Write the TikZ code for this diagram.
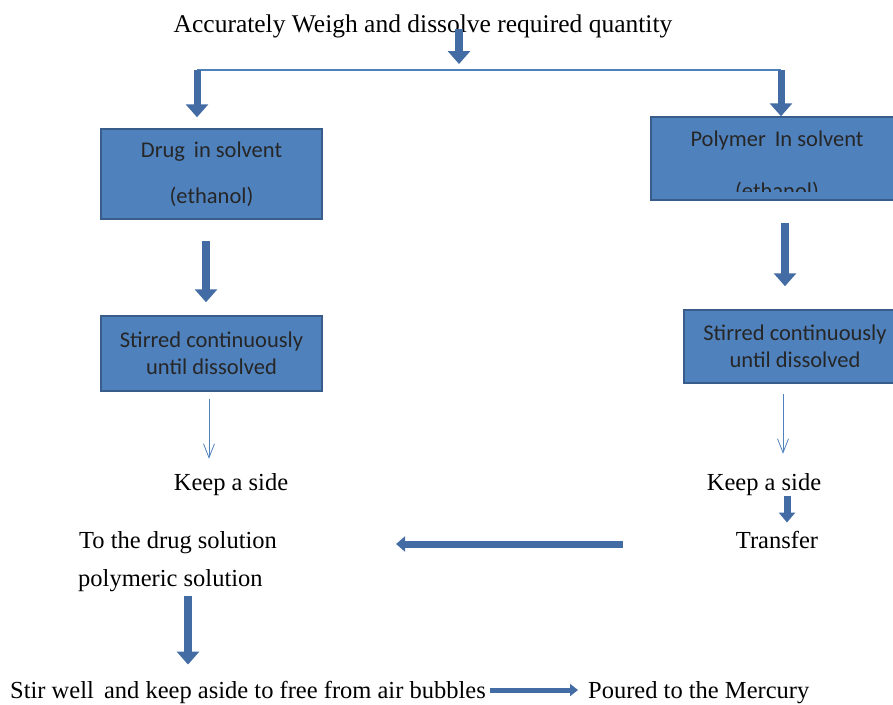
\documentclass[tikz,border=0pt]{standalone}
\usepackage{fontspec}
\setmainfont{Liberation Serif}
\newfontfamily\boxfont{Carlito}
\usetikzlibrary{arrows.meta}
\definecolor{boxblue}{RGB}{79,129,189}
\definecolor{edgeblue}{RGB}{56,93,138}
\definecolor{arrowblue}{RGB}{66,108,163}
\tikzset{
  bluebox/.style={draw=edgeblue, line width=1.5pt, fill=boxblue, inner sep=0pt},
  boxtext/.style={font=\boxfont\fontsize{22.5}{27}\selectfont, text=black!85, align=center},
  plain/.style={font=\fontsize{24.5}{28}\selectfont, inner sep=0pt},
  fatarrow/.style={arrowblue, line width=8pt, -{Triangle[width=22pt,length=13pt]}},
  smallarrow/.style={arrowblue, line width=7pt, -{Triangle[width=16pt,length=10pt]}},
  thinarrow/.style={boxblue, line width=0.8pt, -{Straight Barb[length=14pt,width=11pt]}},
}
\begin{document}
\begin{tikzpicture}[x=1pt,y=-1pt]
        \useasboundingbox (0,0) rectangle (893,704);
        % columns and rows for the connectors
        \coordinate (lsplit) at (197,70);
        \coordinate (rsplit) at (781,70);
        \coordinate (mid) at (459,64);
        \coordinate (lcol) at (206,0);
        \coordinate (rcol) at (785,0);
        \coordinate (lthin) at (209,0);
        \coordinate (rthin) at (783,0);
        \coordinate (tcol) at (787,0);
        \coordinate (hrow) at (0,544);
        \coordinate (dcol) at (188,0);
        \coordinate (brow) at (0,690);
        % title
        \node[plain, font=\fontsize{25.5}{28}\selectfont, anchor=base] (weigh) at (423,32) {Accurately Weigh and dissolve required quantity};
        % boxes
        \node[bluebox, minimum width=221pt, minimum height=90pt] (drug) at (211.5,174) {};
        \node[boxtext] at (drug.center) {Drug\, in solvent\\[19pt](ethanol)};
        \node[bluebox, minimum width=252pt, minimum height=83pt] (poly) at (777,158.5) {};
        \begin{scope}
            \clip (poly.north west) rectangle (poly.east |- 0,191);
            \node[boxtext, anchor=base] at (777,198) {Polymer\, In solvent\\[25pt](ethanol)};
        \end{scope}
        \node[bluebox, boxtext, minimum width=221pt, minimum height=75pt] (drugstir) at (211.5,353.5)
            {Stirred continuously\\until dissolved};
        \node[bluebox, boxtext, minimum width=222pt, minimum height=73pt] (polystir) at (795,346.5)
            {Stirred continuously\\until dissolved};
        % plain texts
        \node[plain, anchor=base] (keepl) at (231,490) {Keep a side};
        \node[plain, anchor=base] (keepr) at (764,490) {Keep a side};
        \node[plain, anchor=base] (transfer) at (777,548) {Transfer};
        \node[plain, anchor=base west] (todrug) at (79,548) {To the drug solution};
        \node[plain, anchor=base west] (polysol) at (78,586) {polymeric solution};
        \node[plain, anchor=base west] (stirwell) at (10,698) {Stir well\, and keep aside to free from air bubbles};
        \node[plain, anchor=base west] (poured) at (588,698) {Poured to the Mercury};
        % connectors
        \draw[fatarrow] ([yshift=9pt]weigh.south -| mid) -- (mid);
        \draw[boxblue, line width=2pt] (lsplit) -- (rsplit);
        \draw[fatarrow, line width=7pt, shorten >=11pt] (lsplit) -- (drug.north -| lsplit);
        \draw[fatarrow, line width=7pt] (rsplit) -- (poly.north -| rsplit);
        \draw[fatarrow, shorten <=21pt, shorten >=13pt] (drug.south -| lcol) -- (drugstir.north -| lcol);
        \draw[fatarrow, shorten <=22pt, shorten >=23pt] (poly.south -| rcol) -- (polystir.north -| rcol);
        \draw[thinarrow, shorten <=7pt, shorten >=14pt] (drugstir.south -| lthin) -- (keepl.north -| lthin);
        \draw[thinarrow, shorten <=10pt, shorten >=19pt] (polystir.south -| rthin) -- (keepr.north -| rthin);
        \draw[smallarrow, shorten <=1pt, shorten >=8pt] (keepr.south -| tcol) -- (transfer.north -| tcol);
        \draw[smallarrow, line width=7pt, -{Triangle[width=15pt,length=9pt]}, shorten <=113pt, shorten >=119pt]
            (transfer.west |- hrow) -- (todrug.east |- hrow);
        \draw[fatarrow, shorten <=5pt, shorten >=16pt] (polysol.south -| dcol) -- (stirwell.north -| dcol);
        \draw[arrowblue, line width=5pt, -{Triangle[width=12pt,length=8pt]}, shorten <=4pt, shorten >=10pt]
            (stirwell.east |- brow) -- (poured.west |- brow);
    \end{tikzpicture}
\end{document}
